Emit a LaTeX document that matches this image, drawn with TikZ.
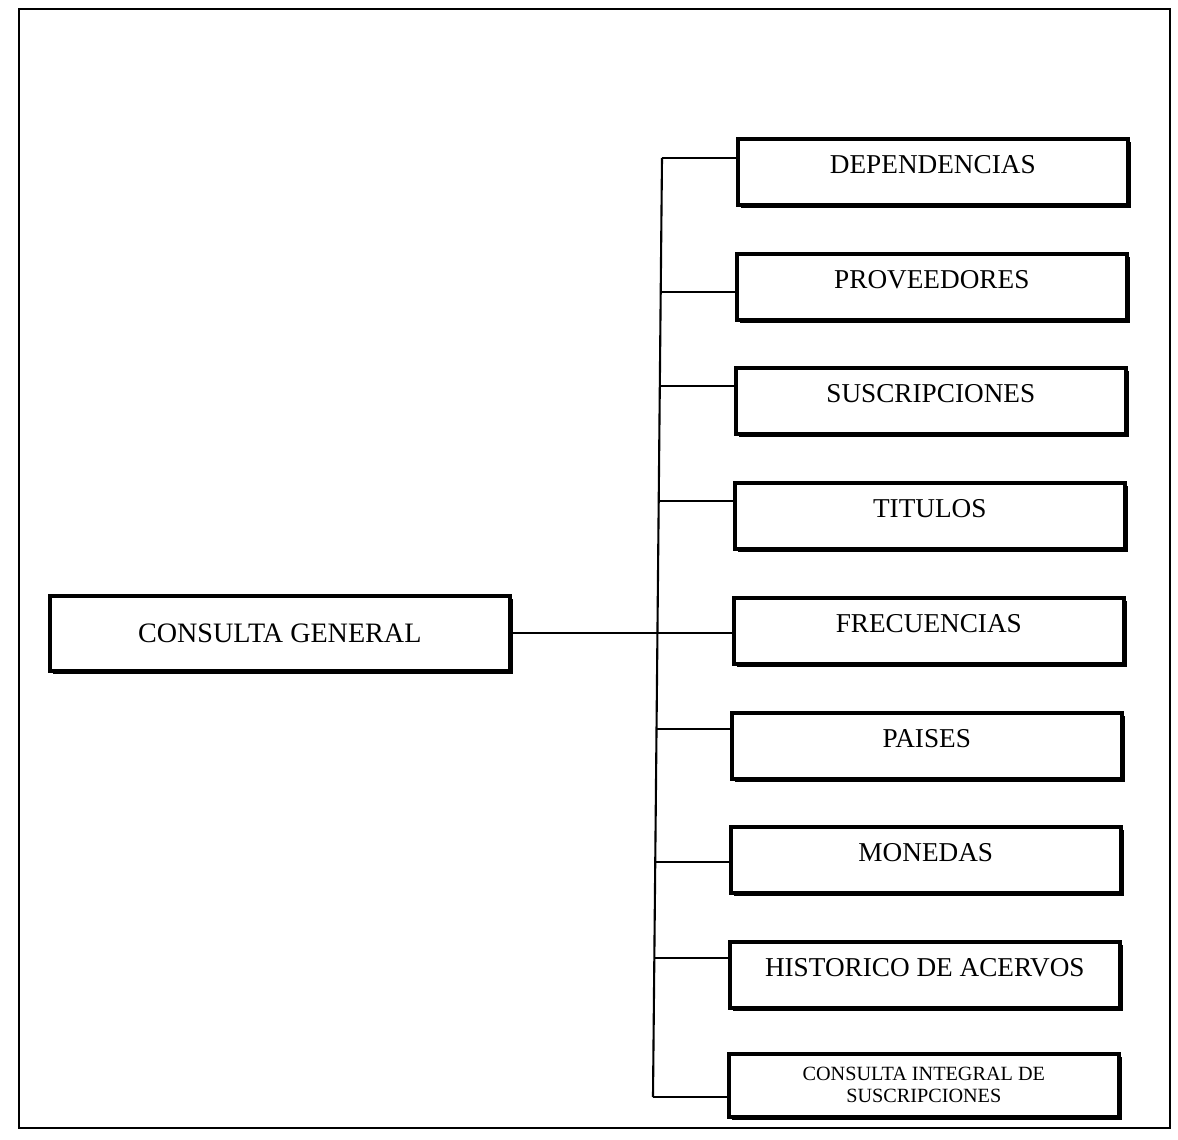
\documentclass[tikz,border=0pt]{standalone}
\usepackage{fontspec}
\setmainfont{Liberation Serif}
\usetikzlibrary{shadows}

\tikzset{
  menu/.style = {draw, line width=2.1pt, fill=white, inner sep=0pt,
    anchor=north west, minimum width=7.8cm,
    text height=0.7cm, text depth=0.62cm,
    font=\fontsize{15.5}{18}\selectfont,
    drop shadow={shadow xshift=1.8pt, shadow yshift=-1.8pt, fill=black, opacity=1}},
  link/.style = {line width=1.2pt}
}

\begin{document}
\begin{tikzpicture}[x=0.02cm, y=-0.02cm]
        \useasboundingbox (0,0) rectangle (1178,1140);
        \draw[line width=1.3pt] (19,9) rectangle (1170,1128);

        \node[menu, minimum width=9.2cm, minimum height=1.5cm, text height=, text depth=,
              font=\fontsize{16}{18}\selectfont] (root) at (48,594) {CONSULTA GENERAL};

        \node[menu] (dep) at (736,137)  {DEPENDENCIAS};
        \node[menu] (pro) at (735,252)  {PROVEEDORES};
        \node[menu] (sus) at (734,366)  {SUSCRIPCIONES};
        \node[menu] (tit) at (733,481)  {TITULOS};
        \node[menu] (fre) at (732,596)  {FRECUENCIAS};
        \node[menu] (pai) at (730,711)  {PAISES};
        \node[menu] (mon) at (729,825)  {MONEDAS};
        \node[menu] (his) at (728,940)  {HISTORICO DE ACERVOS};
        \node[menu, text height=, text depth=, minimum height=1.26cm, align=center,
              font=\fontsize{11.5}{12.5}\selectfont] (int) at (727,1052)
              {CONSULTA INTEGRAL DE\\SUSCRIPCIONES};

        % bus
        \coordinate (top) at (662,158);
        \coordinate (bot) at (653,1097);
        \draw[link] (top) -- (bot);

        \coordinate (c1) at (662,158);
        \coordinate (c2) at (661,292);
        \coordinate (c3) at (660,386);
        \coordinate (c4) at (659,501);
        \coordinate (c5) at (658,633);
        \coordinate (c6) at (657,729);
        \coordinate (c7) at (656,862);
        \coordinate (c8) at (654,958);
        \coordinate (c9) at (653,1097);

        \draw[link] (c1) -- (c1 -| dep.west);
        \draw[link] (c2) -- (c2 -| pro.west);
        \draw[link] (c3) -- (c3 -| sus.west);
        \draw[link] (c4) -- (c4 -| tit.west);
        \draw[link] (root.east) -- (root.east -| fre.west);
        \draw[link] (c6) -- (c6 -| pai.west);
        \draw[link] (c7) -- (c7 -| mon.west);
        \draw[link] (c8) -- (c8 -| his.west);
        \draw[link] (c9) -- (c9 -| int.west);
    \end{tikzpicture}
\end{document}
